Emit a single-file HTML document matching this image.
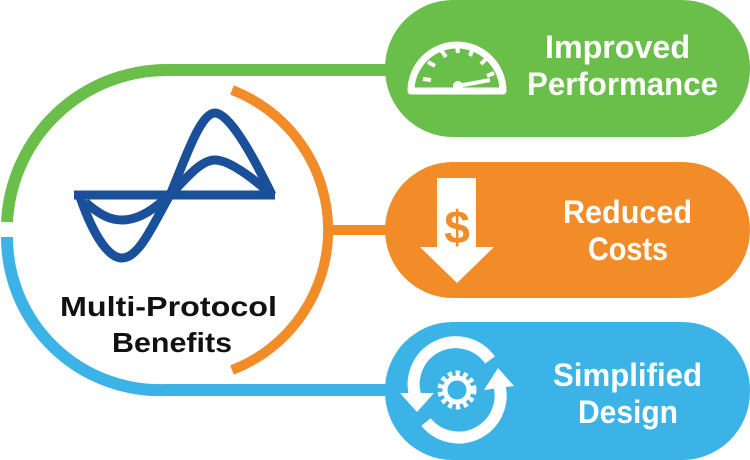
<!DOCTYPE html>
<html><head><meta charset="utf-8"><style>
html,body{margin:0;padding:0;background:#fff;}
svg{display:block}
text{font-family:"Liberation Sans",sans-serif;font-weight:bold;}
</style></head><body>
<svg width="750" height="460" viewBox="0 0 750 460" xmlns="http://www.w3.org/2000/svg">
<rect x="385" y="0" width="365" height="137" rx="68" fill="#6abf4b"/>
<rect x="385" y="162" width="365" height="136" rx="68" fill="#f28c28"/>
<rect x="385" y="322" width="365" height="138" rx="68" fill="#3bb3e6"/>
<path d="M386 70 H167 A160 160 0 0 0 7 222" fill="none" stroke="#6abf4b" stroke-width="12"/>
<path d="M7 237 A153 153 0 0 0 167 390 H386" fill="none" stroke="#3bb3e6" stroke-width="12"/>
<path d="M232 90 A150 150 0 0 1 232 370" fill="none" stroke="#f28c28" stroke-width="10"/>
<line x1="330" y1="230" x2="388" y2="230" stroke="#f28c28" stroke-width="10"/>
<g fill="none" stroke="#1a4f9a" stroke-width="9" stroke-linejoin="round">
<line x1="74" y1="195" x2="275" y2="195"/>
<path d="M80 197 C95 240 110 258 122 258 C140 258 155 220 170 195 C185 160 200 113 215 113 C230 113 255 160 272 195"/>
<path d="M85 202 C100 215 110 220 122 220 C140 220 155 208 170 195 C185 180 200 160 215 160 C230 160 255 180 272 195"/>
</g>
<text x="60" y="316" font-size="28" textLength="217" lengthAdjust="spacingAndGlyphs" fill="#111">Multi-Protocol</text>
<text x="112" y="352" font-size="28" textLength="120" lengthAdjust="spacingAndGlyphs" fill="#111">Benefits</text>
<g fill="#fff" font-size="32">
<text x="545" y="58" textLength="145" lengthAdjust="spacingAndGlyphs">Improved</text>
<text x="527" y="95" textLength="191" lengthAdjust="spacingAndGlyphs">Performance</text>
<text x="563" y="223" textLength="129" lengthAdjust="spacingAndGlyphs">Reduced</text>
<text x="588" y="260" textLength="80" lengthAdjust="spacingAndGlyphs">Costs</text>
<text x="553" y="386" textLength="149" lengthAdjust="spacingAndGlyphs">Simplified</text>
<text x="578" y="423" textLength="100" lengthAdjust="spacingAndGlyphs">Design</text>
</g>
<g fill="none" stroke="#fff">
<path d="M411 91 A46 46 0 0 1 503 91 Z" stroke-width="7" stroke-linejoin="round"/>
<g stroke-width="4">
<line x1="423" y1="79" x2="431" y2="80"/>
<line x1="428" y1="62" x2="435" y2="66"/>
<line x1="441" y1="50" x2="446" y2="57"/>
<line x1="457" y1="45" x2="458" y2="53"/>
<line x1="473" y1="48" x2="470" y2="56"/>
<line x1="487" y1="58" x2="481" y2="64"/>
<line x1="494" y1="73" x2="487" y2="76"/>
</g>
<line x1="458" y1="86" x2="490" y2="80" stroke-width="4"/>
</g>
<circle cx="458" cy="86" r="5" fill="#fff"/>
<path d="M437 178 H476 V247 H494 L457 283 L420 247 H437 Z" fill="#fff"/>
<text x="457" y="243" font-size="46" text-anchor="middle" fill="#f28c28">$</text>
<g fill="none" stroke="#fff" stroke-width="12">
<path d="M416 398 A42 42 0 0 1 490 360"/>
<path d="M499 384 A42 42 0 0 1 426 422"/>
</g>
<path d="M400 393 L434 393 L417 412 Z" fill="#fff"/>
<path d="M484 390 L514 386 L498 368 Z" fill="#fff"/>
<circle cx="457" cy="390" r="16" fill="none" stroke="#fff" stroke-width="7" stroke-dasharray="4 3.4"/>
<circle cx="457" cy="390" r="12" fill="none" stroke="#fff" stroke-width="5"/>
</svg>
</body></html>
